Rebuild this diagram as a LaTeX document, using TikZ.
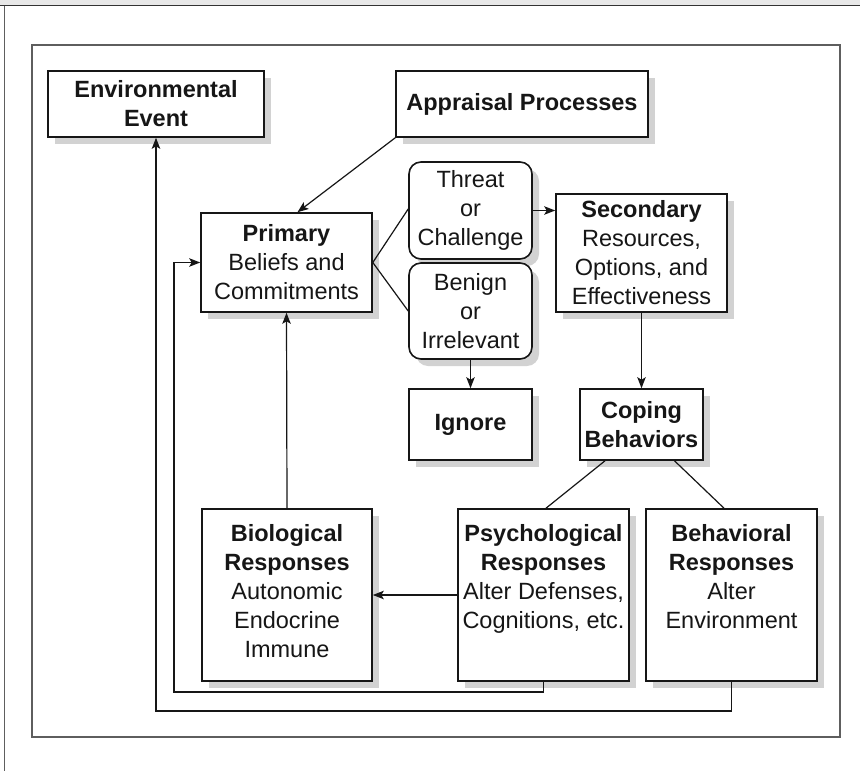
\documentclass[tikz,border=0pt]{standalone}
\usepackage{fontspec}
\setmainfont{Liberation Sans}
\usetikzlibrary{arrows.meta,shadows,calc}
\definecolor{framegray}{HTML}{5E5E5E}
\definecolor{ink}{HTML}{161616}
\definecolor{shade}{HTML}{D2D2D2}
\tikzset{
  box/.style={draw=ink, line width=1.6pt, fill=white, inner sep=0pt, align=center,
    text=ink, font=\fontsize{23.5pt}{29pt}\selectfont,
    drop shadow={shadow xshift=7pt, shadow yshift=-7pt, fill=shade, opacity=1}},
  rbox/.style={box, rounded corners=12pt},
  txt/.style={inner sep=0pt, align=center, text=ink, font=\fontsize{23.5pt}{29pt}\selectfont, anchor=north},
  conn/.style={draw=ink, line width=1.2pt},
  arr/.style={conn, -{Stealth[length=11pt,width=8.5pt,inset=2.5pt]}}
}
\begin{document}
\begin{tikzpicture}[x=1pt,y=-1pt]
\useasboundingbox (0,0) rectangle (860,771);
% page background and outer edges
\fill[white] (0,0) rectangle (860,771);
\fill[black!9] (0,0) rectangle (860,5);
\draw[black!80, line width=1.3pt] (0,5.5) -- (860,5.5);
\draw[framegray, line width=1.3pt] (4.5,5.5) -- (4.5,771);
% inner frame
\draw[framegray, line width=1.6pt] (32,45) rectangle (840,737);

% boxes
\node[box, minimum width=216pt, minimum height=66pt] (env) at (156,104) {\bfseries Environmental\\\bfseries Event};
\node[box, minimum width=252pt, minimum height=66pt] (appr) at (522,104) {\bfseries Appraisal Processes};
\node[box, minimum width=171pt, minimum height=99pt] (prim) at (286.5,262.5) {\bfseries Primary\\Beliefs and\\Commitments};
\node[rbox, minimum width=123pt, minimum height=97pt] (threat) at (470.5,210.5) {Threat\\or\\Challenge};
\node[rbox, minimum width=123pt, minimum height=96pt] (benign) at (470.5,311) {Benign\\or\\Irrelevant};
\node[box, minimum width=123pt, minimum height=71pt] (ignore) at (470.5,424.5) {\bfseries Ignore};
\node[box, minimum width=171pt, minimum height=118pt] (sec) at (641.5,253) {\bfseries Secondary\\Resources,\\Options, and\\Effectiveness};
\node[box, minimum width=123pt, minimum height=71pt] (cope) at (641.5,424.5) {\bfseries Coping\\\bfseries Behaviors};
\node[box, minimum width=170pt, minimum height=172pt] (bio) at (287,595) {};
\node[box, minimum width=171pt, minimum height=172pt] (psy) at (543.5,595) {};
\node[box, minimum width=171pt, minimum height=172pt] (beh) at (731.5,595) {};
\node[txt] (biot) at ([yshift=-16pt]bio.north) {\bfseries Biological\\\bfseries Responses\\Autonomic\\Endocrine\\Immune};
\node[txt] (psyt) at ([yshift=-16pt]psy.north) {\bfseries Psychological\\\bfseries Responses\\Alter Defenses,\\Cognitions, etc.};
\node[txt] (beht) at ([yshift=-16pt]beh.north) {\bfseries Behavioral\\\bfseries Responses\\Alter\\Environment};

% connectors
\draw[arr] (appr.south west) -- ([xshift=11pt]prim.north);
\draw[conn] (prim.east) -- ([yshift=1.5pt]threat.west);
\draw[conn] (prim.east) -- (benign.west);
\draw[arr] (threat.east) -- (threat.east -| sec.west);
\draw[arr] (benign.south) -- (ignore.north);
\draw[arr] (sec.south) -- (cope.north);
\draw[conn] ([xshift=-36.5pt]cope.south) -- ([xshift=2.5pt]psy.north);
\draw[conn] ([xshift=33pt]cope.south) -- ([xshift=-7.5pt]beh.north);
\draw[arr] (psy.west) -- (bio.east);
\draw[arr] (bio.north) -- (prim.south);
\coordinate (fb1) at (174,692);
\coordinate (fb2) at (156,711);
\draw[arr] (psy.south) |- (fb1) |- (prim.west);
\draw[arr] (beh.south) |- (fb2) -- (env.south);
\end{tikzpicture}
\end{document}
